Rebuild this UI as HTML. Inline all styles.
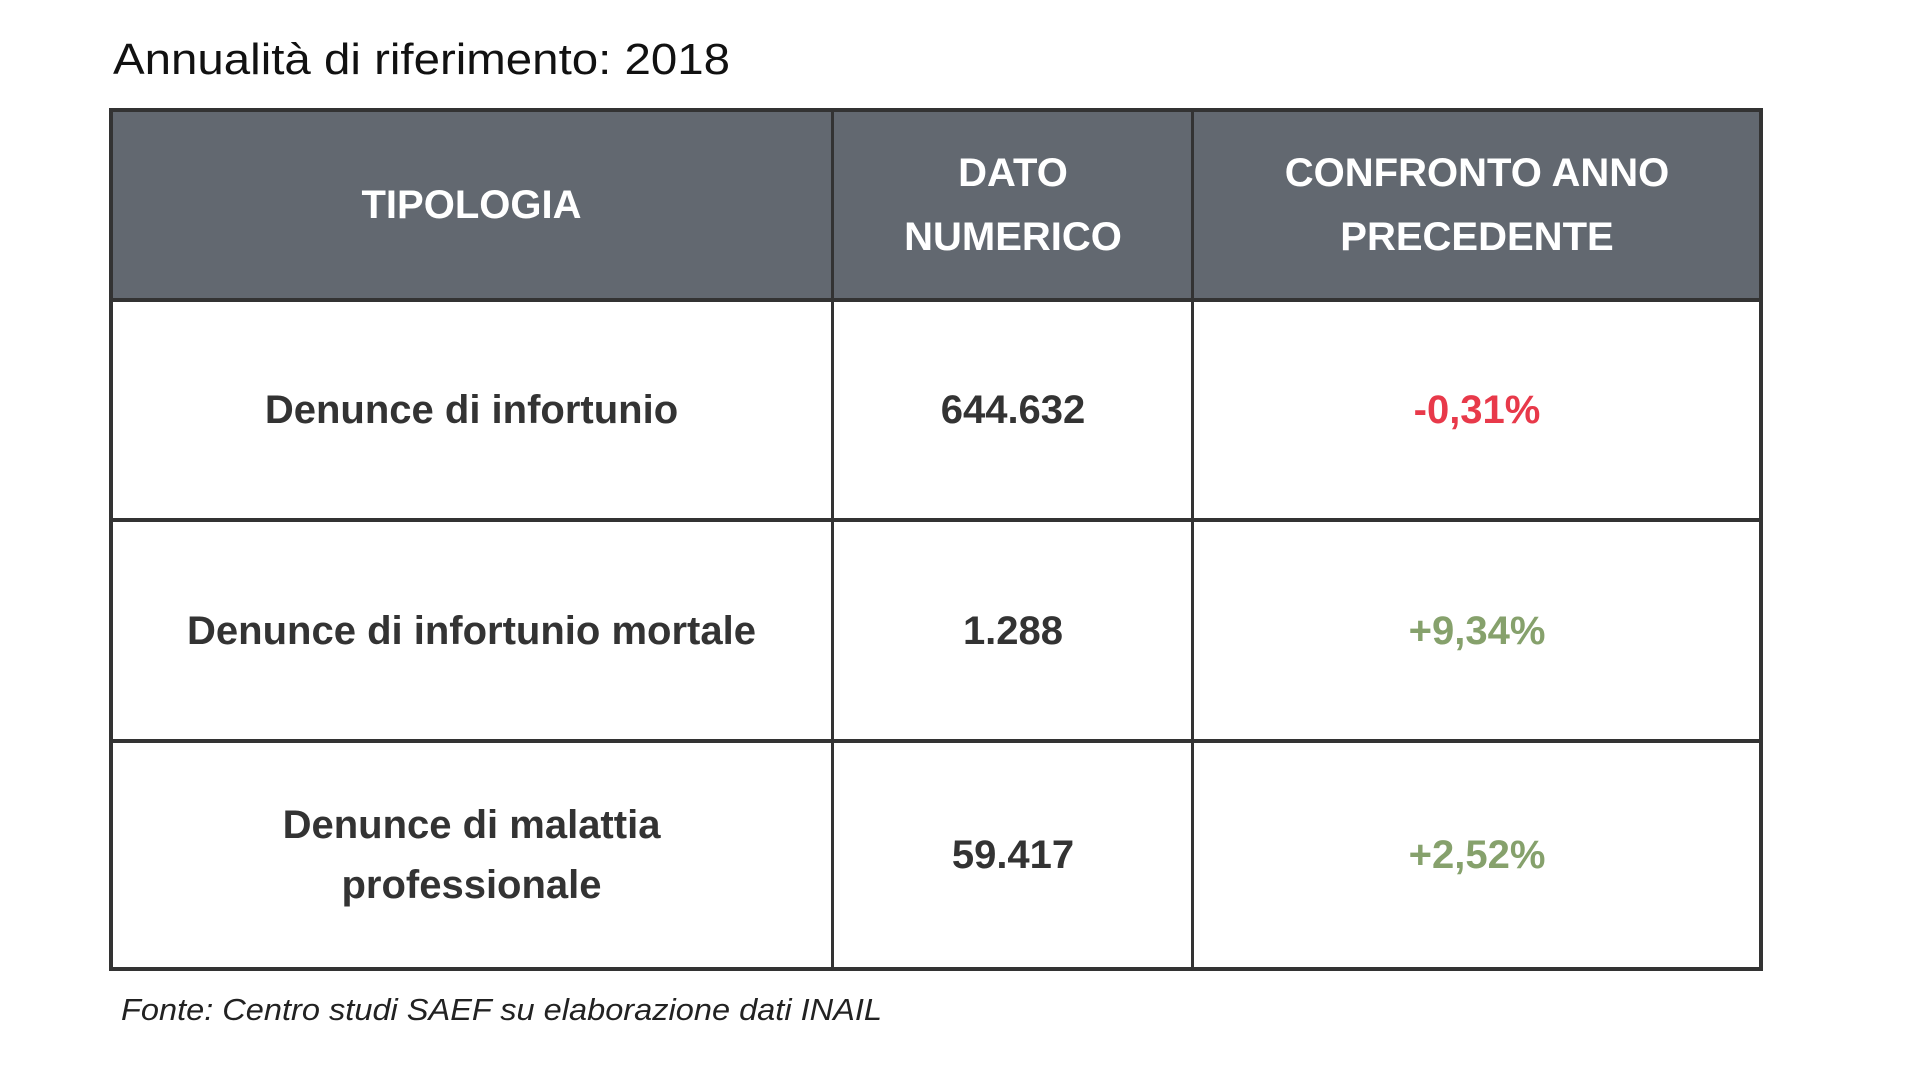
<!DOCTYPE html>
<html><head><meta charset="utf-8"><style>
html,body{margin:0;padding:0;width:1920px;height:1080px;background:#fff;overflow:hidden;font-family:"Liberation Sans",sans-serif}
.cell{position:absolute;display:flex;align-items:center;justify-content:center;text-align:center;font-weight:bold;font-size:40px;color:#333;line-height:60px}
.h{color:#fff;background:#626870}
.line{position:absolute;background:#333}
</style></head><body>
<svg width="1920" height="1080" style="position:absolute;left:0;top:0">
<text x="113" y="74" font-size="44" font-family="Liberation Sans" textLength="617" lengthAdjust="spacingAndGlyphs" fill="#111">Annualità di riferimento: 2018</text>
<text x="121" y="1020" font-size="31" font-style="italic" font-family="Liberation Sans" textLength="761" lengthAdjust="spacingAndGlyphs" fill="#222">Fonte: Centro studi SAEF su elaborazione dati INAIL</text>
</svg>
<div>
<div class="cell h" style="left:110px;top:110px;width:723px;height:190px">TIPOLOGIA</div>
<div class="cell h" style="left:833px;top:110px;width:360px;height:190px;line-height:64px">DATO<br>NUMERICO</div>
<div class="cell h" style="left:1193px;top:110px;width:568px;height:190px;line-height:64px">CONFRONTO ANNO<br>PRECEDENTE</div>

<div class="cell" style="left:110px;top:300px;width:723px;height:220px">Denunce di infortunio</div>
<div class="cell" style="left:833px;top:300px;width:360px;height:220px">644.632</div>
<div class="cell" style="left:1193px;top:300px;width:568px;height:220px;color:#e8394a">-0,31%</div>

<div class="cell" style="left:110px;top:520px;width:723px;height:221px">Denunce di infortunio mortale</div>
<div class="cell" style="left:833px;top:520px;width:360px;height:221px">1.288</div>
<div class="cell" style="left:1193px;top:520px;width:568px;height:221px;color:#86a16c">+9,34%</div>

<div class="cell" style="left:110px;top:741px;width:723px;height:228px">Denunce di malattia<br>professionale</div>
<div class="cell" style="left:833px;top:741px;width:360px;height:228px">59.417</div>
<div class="cell" style="left:1193px;top:741px;width:568px;height:228px;color:#86a16c">+2,52%</div>

<div class="line" style="left:109px;top:108px;width:1654px;height:4px"></div>
<div class="line" style="left:109px;top:967px;width:1654px;height:4px"></div>
<div class="line" style="left:109px;top:108px;width:4px;height:863px"></div>
<div class="line" style="left:1759px;top:108px;width:4px;height:863px"></div>
<div class="line" style="left:831px;top:108px;width:3px;height:863px"></div>
<div class="line" style="left:1191px;top:108px;width:3px;height:863px"></div>
<div class="line" style="left:109px;top:298px;width:1654px;height:4px"></div>
<div class="line" style="left:109px;top:518px;width:1654px;height:4px"></div>
<div class="line" style="left:109px;top:739px;width:1654px;height:4px"></div>
</div>
</body></html>
